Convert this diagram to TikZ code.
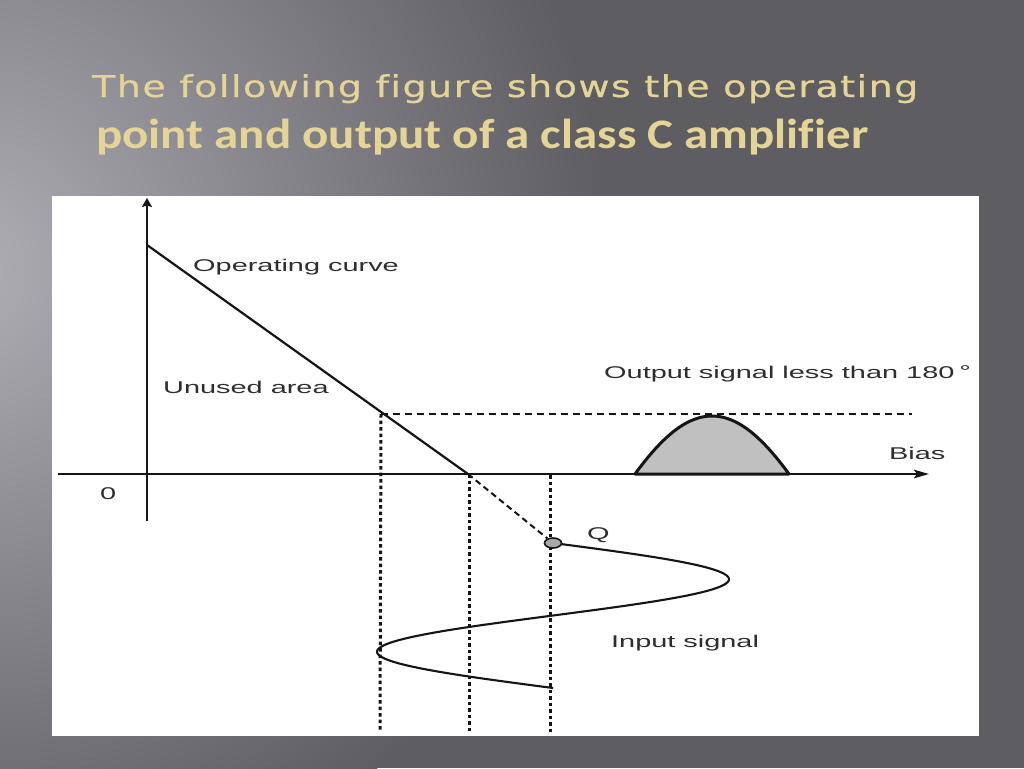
\documentclass[tikz,border=0pt]{standalone}
\usepackage{fontspec}
\setmainfont{Liberation Sans}
\newfontfamily\titleA[LetterSpace=4,Ligatures=NoCommon,FakeBold=0.6]{DejaVu Sans}
\newfontfamily\titleB[Ligatures=NoCommon]{Carlito}
\usetikzlibrary{arrows.meta,shapes.geometric}
\definecolor{bgdark}{HTML}{5E5D62}
\definecolor{bglight}{HTML}{B0AEB6}
\definecolor{gold}{HTML}{E4D496}
\definecolor{ink}{HTML}{151515}
\definecolor{txt}{HTML}{2E2E2E}
\definecolor{hump}{HTML}{C0C0C0}
\definecolor{qfill}{HTML}{A8A8A8}
\newcommand{\stretchtxt}[1]{\scalebox{1.7}[1]{#1}}
\newcommand{\lineone}{\resizebox{826pt}{\height}{\fontsize{30}{36}\selectfont\titleA The following figure shows the operating}}
\newcommand{\linetwo}{\resizebox{772pt}{\height}{\fontsize{42}{48}\selectfont\titleB\bfseries point and output of a class C amplifier}}
\begin{document}
\begin{tikzpicture}[x=1pt,y=-1pt,
  lbl/.style={font=\fontsize{17}{20}\selectfont, text=txt, inner sep=0pt, anchor=base west},
  vaxis/.style={draw=ink, line width=2.4pt, -{Stealth[length=9pt,width=10pt,inset=1.5pt]}},
  haxis/.style={draw=ink, line width=2.1pt, -{Stealth[length=15pt,width=8.5pt,inset=3pt]}},
  opline/.style={draw=ink, line width=2.2pt},
  dashline/.style={draw=ink, line width=2pt, dash pattern=on 7pt off 5pt},
  dotline/.style={draw=ink, line width=3pt, dash pattern=on 3.5pt off 3pt},
  sigline/.style={draw=ink, line width=2.1pt},
  humpline/.style={draw=ink, fill=hump, line width=3pt, line join=round},
  qdot/.style={ellipse, draw=ink, fill=qfill, line width=1.6pt, minimum width=17pt, minimum height=10pt, inner sep=0pt},
  ttl/.style={anchor=base west, inner sep=0pt}]
\useasboundingbox (0,0) rectangle (1024,768);
% background
\begin{scope}
\clip (0,0) rectangle (1024,768);
\fill[bgdark] (0,0) rectangle (1024,768);
\shade[inner color=bglight, outer color=bgdark] (-40,270) circle[radius=650pt];
\end{scope}
% title
\node[ttl, text=gold] (t1) at (92,97) {\lineone};
\node[ttl, text=gold] (t2) at (96,148) {\linetwo};
% figure panel
\fill[white] (52,196) rectangle (979,736);
% coordinates
\coordinate (yb) at (147,521);
\coordinate (yt) at (147,198);
\coordinate (xl) at (58,474);
\coordinate (xr) at (929,474);
\coordinate (A) at (147,245);
\coordinate (C) at (468,474);
\coordinate (P) at (381,414);
\coordinate (Pe) at (912,414);
\coordinate (d1b) at (380,732);
\coordinate (d2t) at (469,474);
\coordinate (d2b) at (469,732);
\coordinate (d3t) at (550,475);
\coordinate (d3b) at (550,732);
% dotted verticals
\draw[dotline] (P) -- (d1b);
\draw[dotline] (d2t) -- (d2b);
\draw[dotline] (d3t) -- (d3b);
% horizontal dashed level
\draw[dashline] (P) -- (Pe);
% output hump
\filldraw[humpline] plot[domain=-60:60, samples=61] ({712+77*\x/60},{474-116*(cos(\x)-0.5)}) -- cycle;
% axes
\draw[vaxis] (yb) -- (yt);
\draw[haxis] (xl) -- (xr);
% operating line
\draw[opline] (A) -- (C);
% input signal
\draw[sigline] plot[domain=0:145, samples=120, smooth] ({553+176*sin(\x*2.48276)},{543+\x});
\node[qdot] (Q) at (553,543) {};
\draw[dashline, dash pattern=on 6pt off 4pt] (C) -- (Q);
% labels
\node[lbl] (oc) at (193,271) {\stretchtxt{Operating curve}};
\node[lbl] (ua) at (163,393) {\stretchtxt{Unused area}};
\node[lbl] (os) at (604,378) {\stretchtxt{Output signal less than 180\,\raisebox{1pt}{°}}};
\node[lbl] (bias) at (889,459) {\stretchtxt{Bias}};
\node[lbl] (zero) at (100,499) {\stretchtxt{0}};
\node[lbl] (ql) at (587,539) {\stretchtxt{Q}};
\node[lbl] (inp) at (611,647) {\stretchtxt{Input signal}};
\end{tikzpicture}
\end{document}
